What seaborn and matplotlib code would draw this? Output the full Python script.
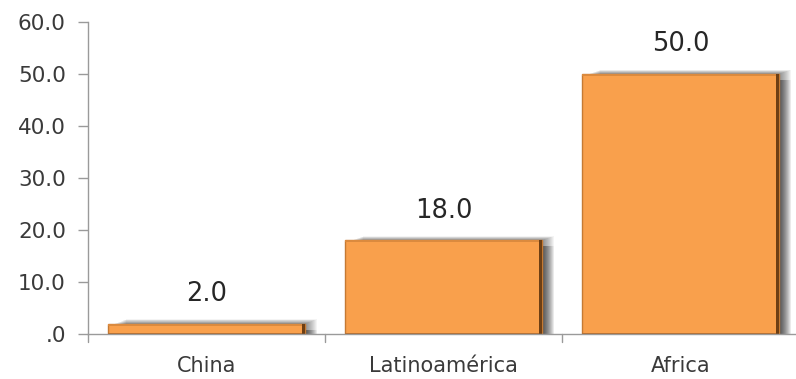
import matplotlib
matplotlib.use("Agg")
import matplotlib.pyplot as plt
from matplotlib.patches import Rectangle
import seaborn as sns
import pandas as pd

categories = ["China", "Latinoamérica", "Africa"]
values = [2.0, 18.0, 50.0]
y_ticks = [0, 10, 20, 30, 40, 50, 60]
y_tick_labels = [".0", "10.0", "20.0", "30.0", "40.0", "50.0", "60.0"]

sns.set_theme(style="white")
plt.rcParams["font.family"] = ["DejaVu Sans"]

df = pd.DataFrame({"region": categories, "value": values})

W, H = 796, 379
fig = plt.figure(figsize=(W / 100, H / 100), dpi=100)
ax_left, ax_bottom, ax_w, ax_h = 88, 45, 711, 312
ax = fig.add_axes([ax_left / W, ax_bottom / H, ax_w / W, ax_h / H])

sns.barplot(data=df, x="region", y="value", color="#F9A04C", width=0.83,
            saturation=1, edgecolor="#C57A33", linewidth=1.0, ax=ax, zorder=3)

ax.set_xlim(-0.5, 2.5)
ax.set_ylim(0, 60)

# pixel -> data conversion factors
px_x = 3.0 / ax_w
px_y = 60.0 / ax_h

# soft drop shadow and bevel built from each bar's geometry
for bar in list(ax.patches):
    x0 = bar.get_x()
    w = bar.get_width()
    h = bar.get_height()
    for k in range(1, 13):
        ax.add_patch(Rectangle((x0 + (6 + k) * px_x, 0), w + (k - 6) * px_x - k * px_x,
                               h + k * 0.35 * px_y,
                               facecolor="black", edgecolor="none", alpha=0.045, zorder=2))
        ax.add_patch(Rectangle((x0 + 8 * px_x, 0), w + (k - 8) * px_x, h - 6 * px_y,
                               facecolor="black", edgecolor="none", alpha=0.04, zorder=2))
    # dark right bevel
    ax.add_patch(Rectangle((x0 + w - 3 * px_x, 0), 3 * px_x, h,
                           facecolor="#6E3F14", edgecolor="none", zorder=4))
    # top bevel
    ax.add_patch(Rectangle((x0, h - 2 * px_y), w - 3 * px_x, 2 * px_y,
                           facecolor="#DB8A3E", edgecolor="none", zorder=4))
    # bottom bevel
    ax.add_patch(Rectangle((x0, 0), w - 3 * px_x, 1.5 * px_y,
                           facecolor="#B86A25", edgecolor="none", zorder=4))

for bar, v in zip(ax.patches[:len(values)], values):
    ax.annotate(f"{v:.1f}", (bar.get_x() + bar.get_width() / 2, v),
                xytext=(0, 12), textcoords="offset points",
                ha="center", va="bottom", fontsize=18.5, color="#262626")

ax.set_yticks(y_ticks)
ax.set_yticklabels(y_tick_labels, fontsize=15.5, color="#3A3A3A")
ax.set_xlabel("")
ax.set_ylabel("")
ax.set_xticks([0, 1, 2])
ax.set_xticklabels(categories, fontsize=15, color="#3A3A3A")
ax.tick_params(axis="x", length=0, pad=16)
ax.tick_params(axis="y", length=7, width=1, color="#9A9A9A", direction="out", pad=9, left=True)

# category boundary ticks below the baseline
for xb in [-0.5, 0.5, 1.5]:
    ax.plot([xb, xb], [0, -8 * px_y], color="#9A9A9A", lw=1, clip_on=False)

for side in ["top", "right"]:
    ax.spines[side].set_visible(False)
for side in ["left", "bottom"]:
    ax.spines[side].set_color("#9A9A9A")
    ax.spines[side].set_linewidth(1)
    ax.spines[side].set_zorder(5)

fig.savefig("out.png", dpi=100, facecolor="white")
